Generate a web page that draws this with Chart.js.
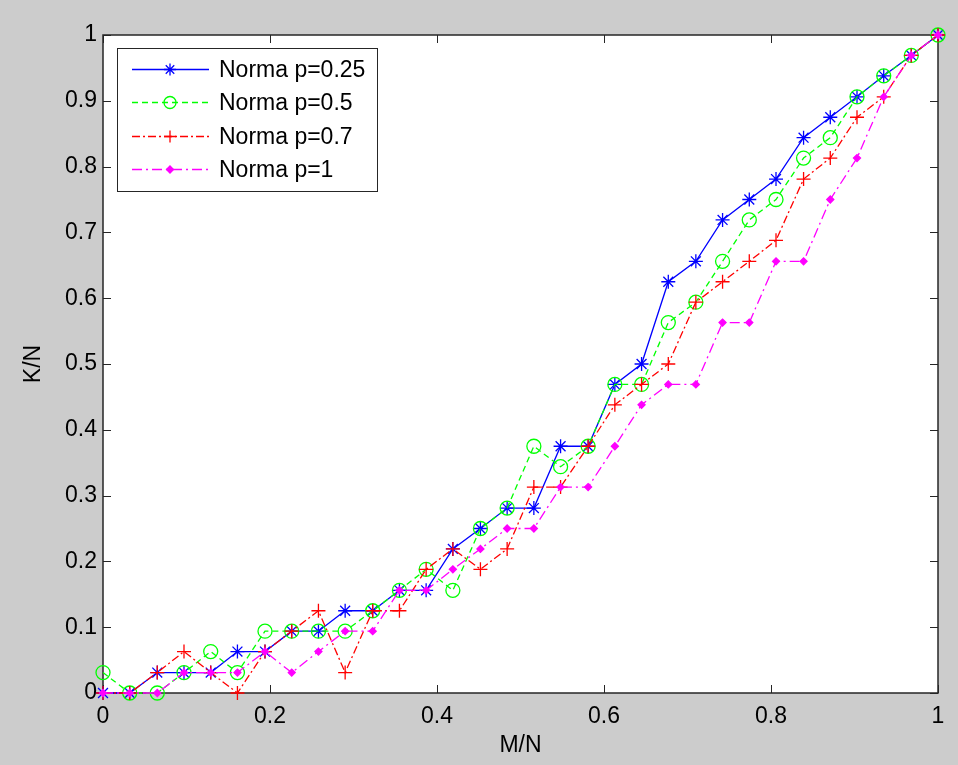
<!DOCTYPE html>
<html>
<head>
<meta charset="utf-8">
<title>K/N vs M/N</title>
<script src="https://cdn.jsdelivr.net/npm/chart.js@4.4.1/dist/chart.umd.min.js"></script>
<style>
    html, body { margin: 0; padding: 0; background: #cccccc; }
    #wrap { width: 958px; height: 765px; }
</style>
</head>
<body>
<div id="wrap"><canvas id="chart" width="958" height="765"></canvas></div>
<script>
// x axis: M/N
const ratioMN = [0, 0.032, 0.065, 0.097, 0.129, 0.161, 0.194, 0.226, 0.258, 0.29, 0.323,
    0.355, 0.387, 0.419, 0.452, 0.484, 0.516, 0.548, 0.581, 0.613, 0.645, 0.677,
    0.71, 0.742, 0.774, 0.806, 0.839, 0.871, 0.903, 0.935, 0.968, 1];

// y values: K/N for each norm
const normP025 = [0, 0, 0.031, 0.031, 0.031, 0.063, 0.063, 0.094, 0.094, 0.125, 0.125,
    0.156, 0.156, 0.219, 0.25, 0.281, 0.281, 0.375, 0.375, 0.469, 0.5, 0.625,
    0.656, 0.719, 0.75, 0.781, 0.844, 0.875, 0.906, 0.938, 0.969, 1];
const normP05 = [0.031, 0, 0, 0.031, 0.063, 0.031, 0.094, 0.094, 0.094, 0.094, 0.125,
    0.156, 0.188, 0.156, 0.25, 0.281, 0.375, 0.344, 0.375, 0.469, 0.469, 0.563,
    0.594, 0.656, 0.719, 0.75, 0.813, 0.844, 0.906, 0.938, 0.969, 1];
const normP07 = [0, 0, 0.031, 0.063, 0.031, 0, 0.063, 0.094, 0.125, 0.031, 0.125,
    0.125, 0.188, 0.219, 0.188, 0.219, 0.313, 0.313, 0.375, 0.438, 0.469, 0.5,
    0.594, 0.625, 0.656, 0.688, 0.781, 0.813, 0.875, 0.906, 0.969, 1];
const normP1 = [0, 0, 0, 0.031, 0.031, 0.031, 0.063, 0.031, 0.063, 0.094, 0.094,
    0.156, 0.156, 0.188, 0.219, 0.25, 0.25, 0.313, 0.313, 0.375, 0.438, 0.469,
    0.469, 0.563, 0.563, 0.656, 0.656, 0.75, 0.813, 0.906, 0.969, 1];

const seriesLabels = ['Norma p=0.25', 'Norma p=0.5', 'Norma p=0.7', 'Norma p=1'];
const xTitle = 'M/N';
const yTitle = 'K/N';

const FONT = '"Liberation Sans", Arial, sans-serif';

function toPoints(ys) {
    return ys.map((y, i) => ({ x: ratioMN[i], y: y }));
}

function makeSet(label, ys, color, style, radius, dash, order) {
    return {
        label: label,
        data: toPoints(ys),
        borderColor: color,
        backgroundColor: color,
        borderWidth: 1.3,
        borderDash: dash,
        pointStyle: style,
        pointRadius: radius,
        pointBorderColor: color,
        pointBackgroundColor: style === 'rectRot' ? color : 'rgba(0,0,0,0)',
        pointBorderWidth: 1.3,
        showLine: true,
        tension: 0,
        clip: false,
        order: order
    };
}

// 0, 0.1 ... 1 like matlab (no trailing .0)
function tickText(v) {
    return String(Number(v.toFixed(1)));
}

/* ===============================
   INWARD TICKS + FRAME
================================ */
const frameTicks = {
    id: 'frameTicks',
    beforeDatasetsDraw(chart) {
        const { ctx, chartArea: a, scales } = chart;
        const len = 8;
        ctx.save();
        ctx.strokeStyle = '#262626';
        ctx.lineWidth = 1;
        ctx.beginPath();
        scales.x.ticks.forEach(t => {
            const px = Math.round(scales.x.getPixelForValue(t.value)) + 0.5;
            ctx.moveTo(px, a.bottom); ctx.lineTo(px, a.bottom - len);
            ctx.moveTo(px, a.top); ctx.lineTo(px, a.top + len);
        });
        scales.y.ticks.forEach(t => {
            const py = Math.round(scales.y.getPixelForValue(t.value)) + 0.5;
            ctx.moveTo(a.left, py); ctx.lineTo(a.left + len, py);
            ctx.moveTo(a.right, py); ctx.lineTo(a.right - len, py);
        });
        ctx.stroke();
        ctx.lineWidth = 1.5;
        ctx.strokeRect(a.left, a.top, a.right - a.left, a.bottom - a.top);
        ctx.restore();
    }
};

/* ===============================
   MATLAB STYLE LEGEND
================================ */
const boxLegend = {
    id: 'boxLegend',
    afterDraw(chart) {
        const { ctx, chartArea: a } = chart;
        const x0 = a.left + 14, y0 = a.top + 13;
        const w = 260, h = 143;
        ctx.save();
        ctx.fillStyle = '#ffffff';
        ctx.fillRect(x0, y0, w, h);
        ctx.strokeStyle = '#262626';
        ctx.lineWidth = 1;
        ctx.strokeRect(x0 + 0.5, y0 + 0.5, w, h);

        chart.data.datasets.forEach((ds, i) => {
            const ry = Math.round(y0 + 21 + i * 33.3) + 0.5;
            ctx.strokeStyle = ds.borderColor;
            ctx.lineWidth = ds.borderWidth;
            ctx.setLineDash(ds.borderDash || []);
            ctx.beginPath();
            ctx.moveTo(x0 + 15, ry);
            ctx.lineTo(x0 + 92, ry);
            ctx.stroke();
            ctx.setLineDash([]);

            ctx.fillStyle = ds.pointBackgroundColor;
            ctx.strokeStyle = ds.pointBorderColor;
            Chart.helpers.drawPoint(ctx, {
                pointStyle: ds.pointStyle,
                radius: ds.pointStyle === 'rectRot' ? 3.5 : 6,
                borderWidth: ds.pointBorderWidth,
                rotation: 0
            }, x0 + 53, ry);

            ctx.fillStyle = '#000000';
            ctx.font = '23px ' + FONT;
            ctx.textBaseline = 'middle';
            ctx.textAlign = 'left';
            ctx.fillText(ds.label, x0 + 102, ry + 1);
        });
        ctx.restore();
    }
};

/* ===============================
   CREATE CHART
================================ */
document.addEventListener('DOMContentLoaded', () => {
    const el = document.getElementById('chart');

    Chart.defaults.font.family = FONT;
    Chart.defaults.color = '#000000';

    new Chart(el, {
        type: 'scatter',
        data: {
            datasets: [
                makeSet(seriesLabels[0], normP025, '#0000ff', 'star', 7, [], 4),
                makeSet(seriesLabels[1], normP05, '#00ff00', 'circle', 7, [6, 4], 3),
                makeSet(seriesLabels[2], normP07, '#ff0000', 'cross', 7, [8, 3, 2, 3], 2),
                makeSet(seriesLabels[3], normP1, '#ff00ff', 'rectRot', 3.5, [10, 4, 2, 4], 1)
            ]
        },
        options: {
            responsive: false,
            animation: false,
            devicePixelRatio: 1,
            layout: { padding: { top: 35, right: 20, left: 0, bottom: 0 } },
            plugins: {
                legend: { display: false },
                tooltip: { enabled: false }
            },
            scales: {
                x: {
                    type: 'linear',
                    min: 0,
                    max: 1,
                    grid: { display: false, drawTicks: false },
                    border: { display: false },
                    ticks: { stepSize: 0.2, padding: 10, font: { size: 23 }, color: '#000',
                        callback: v => tickText(v) },
                    title: { display: true, text: xTitle, font: { size: 23 }, color: '#000',
                        padding: { top: 0, bottom: 6 } },
                    afterFit(scale) { scale.height = 72; }
                },
                y: {
                    type: 'linear',
                    min: 0,
                    max: 1,
                    grid: { display: false, drawTicks: false },
                    border: { display: false },
                    ticks: { stepSize: 0.1, padding: 6, font: { size: 23 }, color: '#000',
                        callback: v => tickText(v) },
                    title: { display: true, text: yTitle, font: { size: 23 }, color: '#000',
                        padding: { top: 20, bottom: 0 } },
                    afterFit(scale) { scale.width = 103; }
                }
            }
        },
        plugins: [{
            id: 'plotBg',
            beforeDraw(chart) {
                const { ctx, chartArea: a } = chart;
                ctx.save();
                ctx.fillStyle = '#cccccc';
                ctx.fillRect(0, 0, chart.width, chart.height);
                ctx.fillStyle = '#ffffff';
                ctx.fillRect(a.left, a.top, a.right - a.left, a.bottom - a.top);
                ctx.restore();
            }
        }, frameTicks, boxLegend]
    });
});
</script>
</body>
</html>
